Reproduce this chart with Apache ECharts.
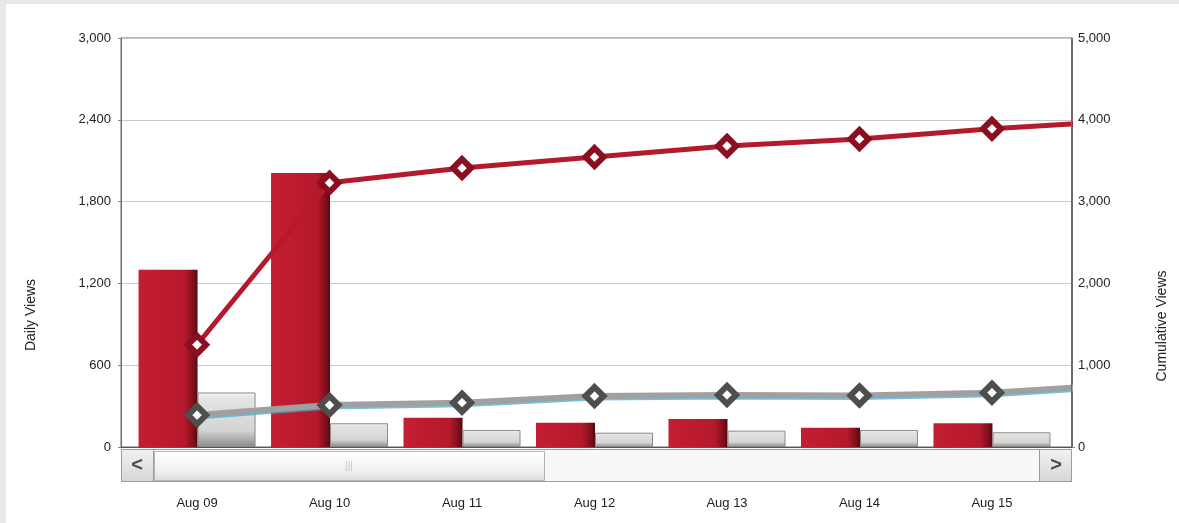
<!DOCTYPE html>
<html>
<head>
<meta charset="utf-8">
<script src="https://cdn.jsdelivr.net/npm/echarts@6/dist/echarts.min.js"></script>
<style>
  html, body { margin: 0; padding: 0; background: #ffffff; }
  #chart { width: 1179px; height: 523px; }
</style>
</head>
<body>
<div id="chart"></div>
<script>
// Days shown on the x axis (the last one sits just past the visible window)
const categories = ['Aug 09', 'Aug 10', 'Aug 11', 'Aug 12', 'Aug 13', 'Aug 14', 'Aug 15', 'Aug 16'];
// Daily counts (left axis)
const dailyViews    = [1300, 2010, 215, 178, 205, 142, 174, null];
const dailyVisitors = [400, 174, 125, 105, 120, 125, 108, null];
// Running totals (right axis)
const cumulativeViews    = [1250, 3230, 3410, 3545, 3680, 3765, 3890, 3990];
const cumulativeVisitors = [390, 513, 541, 623, 636, 630, 664, 765];
// Tick labels
const leftTicks  = [0, 600, 1200, 1800, 2400, 3000];
const rightTicks = [0, 1000, 2000, 3000, 4000, 5000];

const pairs = arr => arr.map((v, i) => [i, v]).filter(p => p[1] !== null);
const fmt = v => Number(v).toLocaleString('en-US');
const FONT = 'Liberation Sans, Arial, sans-serif';

const chart = echarts.init(document.getElementById('chart'), null, { renderer: 'canvas' });

const G = echarts.graphic;
const redBar = new G.LinearGradient(0, 0, 1, 0, [
  { offset: 0, color: '#c41e32' },
  { offset: 0.78, color: '#b5192c' },
  { offset: 0.93, color: '#7e0f1c' },
  { offset: 1, color: '#560812' }
]);
const grayBar = new G.LinearGradient(0, 0, 0, 1, [
  { offset: 0, color: '#f6f6f4' },
  { offset: 0.12, color: '#e4e4e2' },
  { offset: 0.7, color: '#d4d4d2' },
  { offset: 1, color: '#8a8a88' }
]);

const option = {
  animation: false,
  backgroundColor: '#ffffff',
  grid: {
    left: 121, right: 107, top: 38, bottom: 76,
    show: true, borderColor: '#6a6a6a', borderWidth: 1, backgroundColor: '#ffffff'
  },
  xAxis: {
    type: 'value',
    min: -0.574,
    max: 6.604,
    splitLine: { show: false },
    axisTick: { show: false },
    axisLine: { show: true, onZero: false, lineStyle: { color: '#555', width: 1 } },
    axisLabel: {
      customValues: [0, 1, 2, 3, 4, 5, 6],
      formatter: v => categories[Math.round(v)],
      margin: 50,
      fontFamily: FONT, fontSize: 13, color: '#222'
    }
  },
  yAxis: [
    {
      type: 'value', min: leftTicks[0], max: leftTicks[leftTicks.length - 1], interval: 600,
      position: 'left',
      axisLine: { show: true, onZero: false, lineStyle: { color: '#6a6a6a' } },
      axisTick: { show: true, length: 3, lineStyle: { color: '#888' } },
      splitLine: { show: true, lineStyle: { color: '#c9c9c9', width: 1 } },
      axisLabel: { formatter: fmt, margin: 10, fontFamily: FONT, fontSize: 13, color: '#222' }
    },
    {
      type: 'value', min: rightTicks[0], max: rightTicks[rightTicks.length - 1], interval: 1000,
      position: 'right',
      axisLine: { show: true, onZero: false, lineStyle: { color: '#6a6a6a' } },
      axisTick: { show: true, length: 3, lineStyle: { color: '#888' } },
      splitLine: { show: false },
      axisLabel: { formatter: fmt, margin: 6, fontFamily: FONT, fontSize: 13, color: '#222' }
    }
  ],
  series: [
    {
      name: 'Daily Views', type: 'bar', yAxisIndex: 0,
      data: pairs(dailyViews), barWidth: 59, barGap: '0%',
      itemStyle: { color: redBar }
    },
    {
      name: 'Daily Visitors', type: 'bar', yAxisIndex: 0,
      data: pairs(dailyVisitors), barWidth: 58, barGap: '0%',
      itemStyle: { color: grayBar, borderColor: '#8a8a88', borderWidth: 1 }
    },
    {
      name: 'Cumulative Visitors', type: 'line', yAxisIndex: 1,
      data: pairs(cumulativeVisitors), clip: true, z: 3,
      lineStyle: { color: '#a0a0a0', width: 6, shadowColor: 'rgba(60,175,215,0.75)', shadowOffsetY: 1.5, shadowBlur: 0 },
      symbol: 'diamond', symbolSize: 18,
      itemStyle: { color: '#ffffff', borderColor: '#4e4e4e', borderWidth: 6 }
    },
    {
      name: 'Cumulative Views', type: 'line', yAxisIndex: 1,
      data: pairs(cumulativeViews), clip: true, z: 4,
      lineStyle: { color: '#b5192c', width: 5 },
      symbol: 'diamond', symbolSize: 18,
      itemStyle: { color: '#ffffff', borderColor: '#8a0f1f', borderWidth: 6 }
    }
  ],
  graphic: [
    // light frame strips
    { type: 'rect', shape: { x: 0, y: 0, width: 1179, height: 4 }, style: { fill: '#e8e8e8' }, silent: true },
    { type: 'rect', shape: { x: 0, y: 0, width: 6, height: 523 }, style: { fill: '#e8e8e8' }, silent: true },
    // cover the line ends that spill past the right border
    { type: 'rect', shape: { x: 1073, y: 38, width: 4, height: 409 }, style: { fill: '#ffffff' }, silent: true, z: 100 },
    { type: 'line', shape: { x1: 1071.5, y1: 38, x2: 1071.5, y2: 447 }, style: { stroke: '#6a6a6a', lineWidth: 1 }, silent: true, z: 101 },
    // axis titles
    {
      type: 'text', x: 31, y: 315, rotation: Math.PI / 2,
      style: { text: 'Daily Views', font: '14px ' + FONT, fill: '#222', align: 'center', verticalAlign: 'middle' }
    },
    {
      type: 'text', x: 1162, y: 326, rotation: Math.PI / 2,
      style: { text: 'Cumulative Views', font: '14px ' + FONT, fill: '#222', align: 'center', verticalAlign: 'middle' }
    },
    // scrollbar track
    {
      type: 'rect', shape: { x: 121.5, y: 449.5, width: 950, height: 32 },
      style: { fill: '#f8f8f8', stroke: '#9c9c9c', lineWidth: 1 }, silent: true
    },
    // scrollbar thumb
    {
      type: 'rect', shape: { x: 154.5, y: 451.5, width: 390, height: 29 },
      style: {
        fill: new G.LinearGradient(0, 0, 0, 1, [
          { offset: 0, color: '#ffffff' }, { offset: 0.6, color: '#f2f2f2' }, { offset: 1, color: '#dcdcdc' }
        ]),
        stroke: '#b4b4b4', lineWidth: 1
      }, silent: true
    },
    {
      type: 'text', x: 349, y: 466,
      style: { text: '|||', font: '10px ' + FONT, fill: '#c4c4c4', align: 'center', verticalAlign: 'middle' }
    },
    // left arrow button
    {
      type: 'rect', shape: { x: 121.5, y: 449.5, width: 32, height: 32 },
      style: {
        fill: new G.LinearGradient(0, 0, 0, 1, [
          { offset: 0, color: '#f2f2f2' }, { offset: 1, color: '#d6d6d6' }
        ]),
        stroke: '#9c9c9c', lineWidth: 1
      }, silent: true
    },
    {
      type: 'text', x: 137, y: 465,
      style: { text: '<', font: 'bold 20px ' + FONT, fill: '#4a4a4a', align: 'center', verticalAlign: 'middle' }
    },
    // right arrow button
    {
      type: 'rect', shape: { x: 1039.5, y: 449.5, width: 32, height: 32 },
      style: {
        fill: new G.LinearGradient(0, 0, 0, 1, [
          { offset: 0, color: '#f2f2f2' }, { offset: 1, color: '#d6d6d6' }
        ]),
        stroke: '#9c9c9c', lineWidth: 1
      }, silent: true
    },
    {
      type: 'text', x: 1056, y: 465,
      style: { text: '>', font: 'bold 20px ' + FONT, fill: '#4a4a4a', align: 'center', verticalAlign: 'middle' }
    }
  ]
};

chart.setOption(option);
</script>
</body>
</html>
